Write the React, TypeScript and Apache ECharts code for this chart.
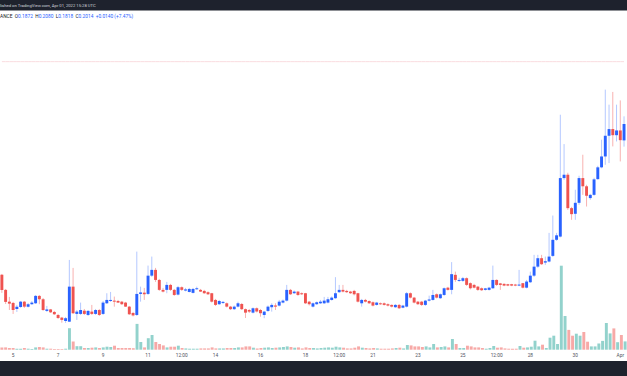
import React, { useEffect, useRef } from "react";
import * as echarts from "echarts";

// 4-hour candles, first candle 2022-03-04 12:00 UTC
const START_UTC = Date.UTC(2022, 2, 4, 12);
const STEP_MS = 4 * 3600 * 1000;

const opens = [
  0.0709, 0.0579, 0.0477, 0.0466, 0.0414, 0.0431, 0.0477, 0.0434, 0.0455, 0.0463,
  0.0527, 0.0498, 0.0397, 0.0410, 0.0388, 0.0362, 0.0339, 0.0310, 0.0304, 0.0607,
  0.0371, 0.0371, 0.0399, 0.0362, 0.0391, 0.0371, 0.0405, 0.0371, 0.0463, 0.0483,
  0.0486, 0.0483, 0.0477, 0.0469, 0.0434, 0.0379, 0.0362, 0.0544, 0.0555, 0.0544,
  0.0702, 0.0752, 0.0665, 0.0579, 0.0579, 0.0622, 0.0579, 0.0538, 0.0602, 0.0573,
  0.0561, 0.0553, 0.0585, 0.0579, 0.0570, 0.0559, 0.0550, 0.0492, 0.0455, 0.0466,
  0.0463, 0.0434, 0.0412, 0.0434, 0.0457, 0.0412, 0.0405, 0.0382, 0.0420, 0.0405,
  0.0362, 0.0397, 0.0429, 0.0444, 0.0443, 0.0469, 0.0486, 0.0579, 0.0550, 0.0564,
  0.0550, 0.0550, 0.0477, 0.0434, 0.0455, 0.0463, 0.0463, 0.0469, 0.0492, 0.0507,
  0.0559, 0.0579, 0.0570, 0.0564, 0.0570, 0.0550, 0.0463, 0.0492, 0.0483, 0.0472,
  0.0449, 0.0463, 0.0463, 0.0455, 0.0449, 0.0429, 0.0449, 0.0425, 0.0434, 0.0550,
  0.0512, 0.0477, 0.0477, 0.0449, 0.0486, 0.0492, 0.0541, 0.0507, 0.0535, 0.0598,
  0.0579, 0.0709, 0.0657, 0.0657, 0.0680, 0.0637, 0.0622, 0.0607, 0.0593, 0.0579,
  0.0579, 0.0593, 0.0665, 0.0635, 0.0631, 0.0628, 0.0628, 0.0625, 0.0616, 0.0637,
  0.0598, 0.0645, 0.0702, 0.0780, 0.0853, 0.0815, 0.0824, 0.0873, 0.1012, 0.1040,
  0.1546, 0.1575, 0.1286, 0.1237, 0.1332, 0.1546, 0.1475, 0.1373, 0.1401, 0.1537,
  0.1639, 0.1733, 0.1912, 0.1970, 0.1917, 0.1958, 0.1872,
];

const closes = [
  0.0579, 0.0475, 0.0460, 0.0405, 0.0434, 0.0477, 0.0434, 0.0455, 0.0469, 0.0527,
  0.0498, 0.0405, 0.0410, 0.0385, 0.0368, 0.0336, 0.0319, 0.0334, 0.0607, 0.0377,
  0.0391, 0.0405, 0.0371, 0.0397, 0.0371, 0.0405, 0.0362, 0.0469, 0.0492, 0.0492,
  0.0477, 0.0469, 0.0455, 0.0434, 0.0368, 0.0358, 0.0544, 0.0557, 0.0541, 0.0702,
  0.0752, 0.0665, 0.0579, 0.0564, 0.0622, 0.0579, 0.0535, 0.0602, 0.0579, 0.0583,
  0.0587, 0.0587, 0.0593, 0.0564, 0.0550, 0.0541, 0.0477, 0.0449, 0.0483, 0.0475,
  0.0434, 0.0412, 0.0434, 0.0463, 0.0412, 0.0382, 0.0391, 0.0420, 0.0391, 0.0377,
  0.0391, 0.0434, 0.0449, 0.0434, 0.0477, 0.0486, 0.0579, 0.0541, 0.0564, 0.0535,
  0.0541, 0.0463, 0.0455, 0.0463, 0.0472, 0.0477, 0.0486, 0.0498, 0.0512, 0.0550,
  0.0579, 0.0564, 0.0559, 0.0550, 0.0541, 0.0477, 0.0492, 0.0477, 0.0463, 0.0443,
  0.0469, 0.0455, 0.0449, 0.0443, 0.0434, 0.0449, 0.0420, 0.0443, 0.0550, 0.0512,
  0.0469, 0.0455, 0.0449, 0.0486, 0.0496, 0.0535, 0.0512, 0.0541, 0.0593, 0.0579,
  0.0715, 0.0665, 0.0665, 0.0680, 0.0622, 0.0593, 0.0598, 0.0579, 0.0576, 0.0592,
  0.0598, 0.0665, 0.0622, 0.0622, 0.0616, 0.0616, 0.0616, 0.0616, 0.0625, 0.0598,
  0.0651, 0.0702, 0.0780, 0.0853, 0.0801, 0.0827, 0.0867, 0.1012, 0.1051, 0.1546,
  0.1575, 0.1286, 0.1234, 0.1332, 0.1546, 0.1475, 0.1393, 0.1401, 0.1535, 0.1639,
  0.1733, 0.1912, 0.1970, 0.1917, 0.1958, 0.1874, 0.2014,
];

const highs = [
  0.0717, 0.0587, 0.0518, 0.0475, 0.0449, 0.0483, 0.0483, 0.0466, 0.0483, 0.0535,
  0.0535, 0.0509, 0.0440, 0.0414, 0.0397, 0.0371, 0.0345, 0.0345, 0.0838, 0.0769,
  0.0405, 0.0469, 0.0414, 0.0405, 0.0449, 0.0414, 0.0414, 0.0483, 0.0550, 0.0561,
  0.0521, 0.0492, 0.0483, 0.0475, 0.0440, 0.0388, 0.0910, 0.0607, 0.0596, 0.0789,
  0.0867, 0.0769, 0.0674, 0.0596, 0.0648, 0.0631, 0.0587, 0.0613, 0.0609, 0.0596,
  0.0596, 0.0596, 0.0607, 0.0587, 0.0579, 0.0566, 0.0553, 0.0501, 0.0492, 0.0483,
  0.0470, 0.0440, 0.0444, 0.0477, 0.0466, 0.0418, 0.0414, 0.0427, 0.0427, 0.0414,
  0.0397, 0.0444, 0.0463, 0.0463, 0.0492, 0.0496, 0.0622, 0.0587, 0.0574, 0.0570,
  0.0557, 0.0553, 0.0483, 0.0470, 0.0479, 0.0492, 0.0518, 0.0518, 0.0522, 0.0689,
  0.0622, 0.0622, 0.0579, 0.0570, 0.0579, 0.0553, 0.0501, 0.0501, 0.0488, 0.0479,
  0.0475, 0.0470, 0.0470, 0.0462, 0.0453, 0.0457, 0.0457, 0.0449, 0.0561, 0.0557,
  0.0518, 0.0483, 0.0483, 0.0492, 0.0529, 0.0579, 0.0548, 0.0548, 0.0600, 0.0605,
  0.0819, 0.0737, 0.0683, 0.0691, 0.0687, 0.0644, 0.0631, 0.0613, 0.0600, 0.0596,
  0.0605, 0.0789, 0.0670, 0.0639, 0.0635, 0.0631, 0.0631, 0.0631, 0.0752, 0.0639,
  0.0665, 0.0737, 0.0882, 0.0882, 0.0882, 0.0867, 0.1072, 0.1222, 0.1072, 0.2094,
  0.1840, 0.1592, 0.1297, 0.1445, 0.1566, 0.1748, 0.1488, 0.1410, 0.1549, 0.1652,
  0.1878, 0.2311, 0.2181, 0.2291, 0.2181, 0.2218, 0.2080,
];

const lows = [
  0.0553, 0.0457, 0.0405, 0.0371, 0.0388, 0.0423, 0.0423, 0.0427, 0.0449, 0.0457,
  0.0455, 0.0397, 0.0388, 0.0379, 0.0362, 0.0327, 0.0295, 0.0293, 0.0301, 0.0371,
  0.0319, 0.0362, 0.0362, 0.0353, 0.0362, 0.0362, 0.0353, 0.0362, 0.0457, 0.0475,
  0.0434, 0.0466, 0.0449, 0.0431, 0.0362, 0.0349, 0.0353, 0.0477, 0.0492, 0.0535,
  0.0691, 0.0648, 0.0570, 0.0557, 0.0550, 0.0570, 0.0527, 0.0531, 0.0570, 0.0566,
  0.0557, 0.0548, 0.0579, 0.0561, 0.0544, 0.0535, 0.0470, 0.0440, 0.0449, 0.0457,
  0.0427, 0.0405, 0.0405, 0.0427, 0.0405, 0.0336, 0.0379, 0.0375, 0.0384, 0.0347,
  0.0334, 0.0388, 0.0391, 0.0405, 0.0436, 0.0462, 0.0479, 0.0535, 0.0544, 0.0527,
  0.0535, 0.0457, 0.0444, 0.0427, 0.0449, 0.0457, 0.0457, 0.0462, 0.0486, 0.0501,
  0.0553, 0.0557, 0.0553, 0.0544, 0.0531, 0.0470, 0.0434, 0.0470, 0.0457, 0.0436,
  0.0443, 0.0449, 0.0443, 0.0436, 0.0427, 0.0423, 0.0414, 0.0420, 0.0427, 0.0505,
  0.0462, 0.0449, 0.0440, 0.0440, 0.0479, 0.0486, 0.0505, 0.0501, 0.0527, 0.0573,
  0.0541, 0.0648, 0.0648, 0.0648, 0.0613, 0.0583, 0.0592, 0.0570, 0.0570, 0.0573,
  0.0573, 0.0587, 0.0613, 0.0579, 0.0611, 0.0611, 0.0611, 0.0611, 0.0611, 0.0592,
  0.0592, 0.0639, 0.0691, 0.0769, 0.0795, 0.0795, 0.0817, 0.0864, 0.1003, 0.1033,
  0.1531, 0.1271, 0.1185, 0.1185, 0.1315, 0.1401, 0.1300, 0.1358, 0.1393, 0.1531,
  0.1631, 0.1661, 0.1676, 0.1820, 0.1863, 0.1690, 0.1818,
];

const volumes = [
  4.6, 4.6, 3.4, 3.4, 2, 2, 3.4, 2, 1.4, 4.6,
  5.4, 4.6, 2, 2, 1.4, 1.4, 1.4, 2, 43, 16.4,
  7, 7, 3.4, 3.4, 4, 4.6, 3.4, 4.6, 6, 5.4,
  8, 3.4, 3.4, 3.4, 3.4, 3, 51.6, 15.4, 4.6, 23,
  29.4, 15.4, 11.4, 8.6, 4.6, 6, 6, 8, 3.4, 2.6,
  2, 2, 2, 2.6, 2.6, 2.6, 4.6, 2.6, 2.6, 2.6,
  3.4, 3.4, 3.4, 4.6, 4.6, 6.6, 6.6, 4, 2.6, 3.4,
  4, 4.6, 3.4, 4, 4.6, 5.4, 6.6, 5.4, 4, 4.6,
  2.6, 4.6, 3.4, 3.4, 2.6, 3.4, 4, 4.6, 4, 6,
  4.6, 4, 2.6, 2.6, 4, 6.6, 4, 3.4, 2.6, 3.4,
  2.6, 2, 2, 2, 2.6, 3.4, 4, 2.6, 9.4, 8.6,
  6.6, 6.6, 5.4, 6.6, 4.6, 11.4, 4.6, 5.4, 6.6, 4.6,
  21.4, 11.4, 3.4, 3.4, 8, 6.6, 4.6, 4.6, 3.4, 2,
  3.4, 7.4, 4, 4.6, 2.6, 2, 2, 2, 7.4, 4,
  4.6, 6, 18, 6.6, 10, 3.4, 24, 28, 11.4, 168,
  67.4, 39.6, 28, 32, 28, 35.4, 16, 6.6, 6.6, 12.4,
  17.6, 53.4, 32.6, 42.6, 15, 29.4, 16.6,
];

const tickTimes = [
  "03-05 00:00", "03-07 00:00", "03-09 00:00", "03-11 00:00", "03-12 12:00",
  "03-14 00:00", "03-16 00:00", "03-18 00:00", "03-19 12:00", "03-21 00:00",
  "03-23 00:00", "03-25 00:00", "03-26 12:00", "03-28 00:00", "03-30 00:00",
  "04-01 00:00",
];
const tickLabels = [
  "5", "7", "9", "11", "12:00", "14", "16", "18", "12:00", "21",
  "23", "25", "12:00", "28", "30", "Apr",
];

// horizontal price level near the top of the pane
const priceLevel = 0.2553;

const UP = "#2962ff";
const DOWN = "#ef5350";
const UP_WICK = "rgba(41,98,255,0.35)";
const DOWN_WICK = "rgba(239,83,80,0.45)";
const VOL_UP = "rgba(38,166,154,0.5)";
const VOL_DOWN = "rgba(239,83,80,0.5)";
const DARK = "#1e222d";
const FONT = "Roboto, 'Liberation Sans', sans-serif";

const pad = (n: number) => (n < 10 ? "0" + n : "" + n);
const categories = opens.map((_, i) => {
  const d = new Date(START_UTC + i * STEP_MS);
  return `${pad(d.getUTCMonth() + 1)}-${pad(d.getUTCDate())} ${pad(d.getUTCHours())}:00`;
});
const tickMap = new Map<string, string>();
tickTimes.forEach((t, i) => tickMap.set(t, tickLabels[i]));

export default function App() {
  const ref = useRef<HTMLDivElement>(null);

  useEffect(() => {
    if (!ref.current) return;
    const chart = echarts.init(ref.current, undefined, { renderer: "svg" });

    const gridLeft = -0.88;
    const gridRight = -0.54;

    const option: any = {
      animation: false,
      backgroundColor: "#ffffff",
      grid: [
        { left: gridLeft, right: gridRight, top: 61.43, bottom: 26.12 },
        { left: gridLeft, right: gridRight, top: 262.2, bottom: 26.3 },
      ],
      xAxis: [
        {
          type: "category",
          gridIndex: 0,
          data: categories,
          boundaryGap: true,
          axisLine: { show: false },
          axisTick: { show: false },
          splitLine: { show: false },
          axisLabel: {
            show: true,
            interval: (_idx: number, val: string) => tickMap.has(val),
            formatter: (val: string) => tickMap.get(val) || "",
            fontSize: 4.8,
            color: "#50535e",
            margin: 3,
            fontFamily: FONT,
          },
        },
        {
          type: "category",
          gridIndex: 1,
          data: categories,
          boundaryGap: true,
          show: false,
        },
      ],
      yAxis: [
        { type: "value", gridIndex: 0, min: 0.006, max: 0.2555, show: false, splitLine: { show: false } },
        { type: "value", gridIndex: 1, min: 0, max: 175, show: false, splitLine: { show: false } },
      ],
      series: [
        {
          type: "bar",
          name: "Volume",
          xAxisIndex: 1,
          yAxisIndex: 1,
          barWidth: "78%",
          z: 1,
          data: volumes.map((v, i) => ({
            value: v,
            itemStyle: { color: closes[i] >= opens[i] ? VOL_UP : VOL_DOWN },
          })),
        },
        {
          type: "line",
          name: "Level",
          xAxisIndex: 0,
          yAxisIndex: 0,
          data: categories.map(() => priceLevel),
          showSymbol: false,
          symbol: "none",
          silent: true,
          z: 1,
          lineStyle: { color: "#fadcdf", width: 1 },
        },
        {
          type: "custom",
          name: "Price",
          xAxisIndex: 0,
          yAxisIndex: 0,
          z: 2,
          encode: { x: 0, y: [1, 2, 3, 4] },
          data: opens.map((o, i) => [i, o, closes[i], lows[i], highs[i]]),
          renderItem: (_params: any, api: any) => {
            const idx = api.value(0);
            const o = api.value(1);
            const c = api.value(2);
            const l = api.value(3);
            const h = api.value(4);
            const top = api.coord([idx, Math.max(o, c)]);
            const bot = api.coord([idx, Math.min(o, c)]);
            const hi = api.coord([idx, h]);
            const lo = api.coord([idx, l]);
            const band = api.size([1, 0])[0];
            const w = band * 0.78;
            const up = c >= o;
            return {
              type: "group",
              children: [
                {
                  type: "line",
                  shape: { x1: hi[0], y1: hi[1], x2: lo[0], y2: lo[1] },
                  style: { stroke: up ? UP_WICK : DOWN_WICK, lineWidth: 1 },
                },
                {
                  type: "rect",
                  shape: {
                    x: top[0] - w / 2,
                    y: top[1],
                    width: w,
                    height: Math.max(bot[1] - top[1], 1),
                  },
                  style: { fill: up ? UP : DOWN },
                },
              ],
            };
          },
        },
      ],
      graphic: [
        { type: "rect", shape: { x: 0, y: 0, width: 627, height: 10.5 }, style: { fill: DARK }, z: 10 },
        {
          type: "text",
          x: 0,
          y: 5.2,
          z: 11,
          style: {
            text: "lished on TradingView.com, Apr 01, 2022 15:28 UTC",
            fill: "#d1d4dc",
            font: `4.2px ${FONT}`,
            verticalAlign: "middle",
          },
        },
        {
          type: "text",
          x: 0,
          y: 16.7,
          z: 11,
          style: {
            text:
              "{t|ANCE}  {t|O}{v|0.1872}  {t|H}{v|0.2080}  {t|L}{v|0.1818}  {t|C}{v|0.2014}  {v|+0.0140 (+7.47%)}",
            verticalAlign: "middle",
            font: `4.8px ${FONT}`,
            rich: {
              t: { fill: "#131722", fontSize: 4.8, fontFamily: FONT },
              v: { fill: UP, fontSize: 4.8, fontFamily: FONT },
            },
          },
        },
        { type: "rect", shape: { x: 0, y: 361, width: 627, height: 15 }, style: { fill: DARK }, z: 10 },
      ],
    };

    chart.setOption(option);
    return () => chart.dispose();
  }, []);

  return (
    <div
      ref={ref}
      style={{ position: "fixed", left: 0, top: 0, width: 627, height: 376, background: "#fff" }}
    />
  );
}
